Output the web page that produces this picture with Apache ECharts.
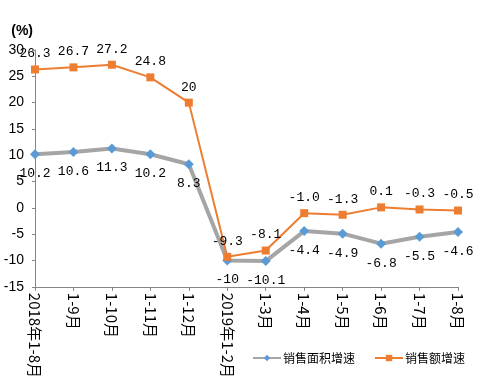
<!DOCTYPE html>
<html><head><meta charset="utf-8">
<script src="https://cdn.jsdelivr.net/npm/echarts@6/dist/echarts.min.js"></script>
<style>html,body{margin:0;padding:0;background:#fff}#c{width:499px;height:381px}</style>
</head><body><div id="c"></div>
<script>
const categories = ['2018年1-8月','1-9月','1-10月','1-11月','1-12月','2019年1-2月','1-3月','1-4月','1-5月','1-6月','1-7月','1-8月'];
const areaGrowth = [10.2, 10.6, 11.3, 10.2, 8.3, -10, -10.1, -4.4, -4.9, -6.8, -5.5, -4.6];
const areaLabels = ['10.2','10.6','11.3','10.2','8.3','-10','-10.1','-4.4','-4.9','-6.8','-5.5','-4.6'];
const salesGrowth = [26.3, 26.7, 27.2, 24.8, 20, -9.3, -8.1, -1.0, -1.3, 0.1, -0.3, -0.5];
const salesLabels = ['26.3','26.7','27.2','24.8','20','-9.3','-8.1','-1.0','-1.3','0.1','-0.3','-0.5'];
const yTicks = {min: -15, max: 30, interval: 5};

const chart = echarts.init(document.getElementById('c'), null, {renderer: 'canvas'});
const labFont = {fontFamily: 'Liberation Mono, DejaVu Sans Mono, monospace', fontSize: 13, color: '#000'};
chart.setOption({
  animation: false,
  grid: {left: 35, right: 41, top: 50, bottom: 94, containLabel: false},
  legend: {
    right: 29, bottom: 12, itemWidth: 28, itemHeight: 8, itemGap: 19,
    textStyle: {fontFamily: 'Noto Sans CJK SC', fontSize: 12, color: '#000', padding: [0, 0, 0, -3]},
    data: ['销售面积增速', '销售额增速']
  },
  xAxis: {
    type: 'category', data: categories, boundaryGap: false,
    axisLine: {onZero: false, lineStyle: {color: '#868686', width: 1}},
    axisTick: {alignWithLabel: true, length: 4, lineStyle: {color: '#868686'}},
    axisLabel: {rotate: -90, fontFamily: 'Noto Sans CJK SC', fontSize: 15, color: '#000', margin: 6, interval: 0}
  },
  yAxis: {
    type: 'value', min: yTicks.min, max: yTicks.max, interval: yTicks.interval,
    name: '(%)', nameLocation: 'end', nameGap: 19,
    nameTextStyle: {fontFamily: 'Liberation Sans', fontSize: 14, fontWeight: 'bold', color: '#000', align: 'right', verticalAlign: 'middle', padding: [0, 2, 0, 0]},
    axisLine: {show: true, lineStyle: {color: '#868686'}},
    axisTick: {show: true, length: 3, lineStyle: {color: '#868686'}},
    splitLine: {show: false},
    axisLabel: {fontFamily: 'Liberation Sans', fontSize: 14, color: '#000', margin: 11}
  },
  series: [
    {
      name: '销售面积增速', type: 'line', data: areaGrowth,
      lineStyle: {color: '#A5A5A5', width: 4},
      itemStyle: {color: '#5B9BD5'},
      symbol: 'diamond', symbolSize: 10, z: 2,
      label: {show: true, position: 'bottom', distance: 8, formatter: p => areaLabels[p.dataIndex], ...labFont}
    },
    {
      name: '销售额增速', type: 'line', data: salesGrowth,
      lineStyle: {color: '#ED7D31', width: 2},
      itemStyle: {color: '#ED7D31'},
      symbol: 'rect', symbolSize: 8, z: 3,
      label: {show: true, position: 'top', distance: 5, formatter: p => salesLabels[p.dataIndex], ...labFont}
    }
  ]
});
</script></body></html>
